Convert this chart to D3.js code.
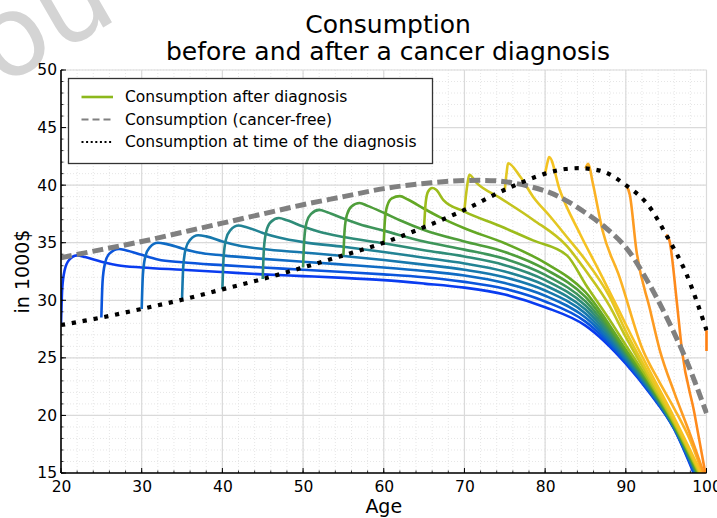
<!DOCTYPE html>
<html>
<head>
<meta charset="utf-8">
<script src="https://cdn.jsdelivr.net/npm/d3@7"></script>
<style>
  html, body { margin: 0; padding: 0; background: #ffffff; }
  svg { display: block; font-family: "DejaVu Sans", sans-serif; }
</style>
</head>
<body>
<svg id="chart" width="717" height="518"></svg>
<script>
// ---------- data ----------
const titleLines = ["Consumption", "before and after a cancer diagnosis"];
const xLabel = "Age";
const yLabel = "in 1000$";
const watermarkText = "ou";
const xTicks = [20, 30, 40, 50, 60, 70, 80, 90, 100];
const yTicks = [15, 20, 25, 30, 35, 40, 45, 50];
const legendLabels = ["Consumption after diagnosis", "Consumption (cancer-free)", "Consumption at time of the diagnosis"];

// consumption at time of the diagnosis (dotted)
const diagAges   = [20, 25, 30, 35, 40, 45, 50, 55, 60, 65, 70, 75, 80, 82.5, 85, 87.5, 90, 92.5, 95, 97.5, 100];
const diagValues = [27.85, 28.5, 29.25, 30.05, 30.95, 31.85, 32.85, 33.9, 35.0, 36.35, 37.85, 39.6, 41.0, 41.4, 41.45, 41.1, 40.0, 38.5, 35.7, 32.3, 27.4];

// cancer-free consumption (dashed)
const cancerFreeAges   = [20, 25, 30, 35, 40, 45, 50, 55, 60, 65, 70, 75, 80, 82.5, 85, 87.5, 90, 92.5, 95, 97.5, 100];
const cancerFreeValues = [33.7, 34.4, 35.1, 35.9, 36.7, 37.5, 38.3, 39.0, 39.7, 40.15, 40.4, 40.3, 39.5, 38.7, 37.6, 36.3, 34.6, 31.9, 28.6, 24.8, 20.2];

// consumption after diagnosis, one series per diagnosis age: [age, value]
const after20 = [[20,27.85],[20.15,31.0],[20.45,32.6],[21,33.5],[22,33.9],[23,33.75],[25,33.35],[27,33.05],[30,32.85],[35,32.65],[40,32.45],[45,32.25],[50,32.1],[55,31.95],[60,31.75],[65,31.45],[70,31.1],[75,30.5],[80,29.4],[85,27.8],[90,24.5],[93,21.9],[96,18.8],[98.4,15]];
const after25 = [[25,28.5],[25.15,31.6],[25.45,33.2],[26,34.05],[27.2,34.45],[28,34.35],[30,33.95],[32,33.55],[35,33.3],[40,33.05],[45,32.85],[50,32.65],[55,32.45],[60,32.25],[65,32.0],[70,31.6],[75,31.0],[80,29.9],[85,28.15],[90,24.65],[93,22.0],[96,18.85],[98.5,15]];
const after30 = [[30,29.25],[30.15,32.2],[30.45,33.8],[31,34.6],[32,35.0],[33,34.9],[35,34.5],[37,34.15],[40,33.9],[45,33.6],[50,33.35],[55,33.1],[60,32.85],[65,32.55],[70,32.15],[75,31.5],[80,30.4],[85,28.5],[90,24.8],[93,22.1],[96,18.9],[98.6,15]];
const after35 = [[35,30.05],[35.15,32.9],[35.45,34.45],[36,35.25],[37,35.65],[38,35.55],[40,35.1],[42,34.75],[45,34.45],[50,34.15],[55,33.85],[60,33.5],[65,33.1],[70,32.65],[75,32.0],[80,30.85],[85,28.85],[90,24.95],[93,22.2],[96,18.95],[98.7,15]];
const after40 = [[40,30.95],[40.15,33.7],[40.45,35.3],[41,36.1],[42,36.5],[43,36.35],[45,35.85],[47,35.45],[50,35.05],[55,34.65],[60,34.2],[65,33.7],[70,33.2],[75,32.5],[80,31.3],[85,29.2],[90,25.1],[93,22.3],[96,19.0],[98.75,15]];
const after45 = [[45,31.85],[45.15,34.5],[45.45,36.0],[46,36.8],[47,37.15],[48,36.95],[50,36.4],[52,35.95],[55,35.5],[60,34.95],[65,34.35],[70,33.8],[75,33.05],[80,31.75],[85,29.55],[90,25.25],[93,22.4],[96,19.05],[98.8,15]];
const after50 = [[50,32.85],[50.15,35.3],[50.45,36.8],[51,37.5],[52,37.85],[53,37.65],[55,37.1],[57,36.6],[60,36.05],[65,35.1],[70,34.4],[75,33.6],[80,32.2],[85,29.9],[90,25.4],[93,22.5],[96,19.1],[98.85,15]];
const after55 = [[55,33.9],[55.15,36.1],[55.45,37.45],[56,38.15],[57,38.45],[58,38.2],[60,37.6],[62,36.95],[65,36.1],[70,35.1],[75,34.2],[80,32.7],[85,30.3],[90,25.55],[93,22.6],[96,19.15],[98.9,15]];
const after60 = [[60,35.0],[60.15,37.0],[60.45,38.25],[61,38.85],[62,39.05],[63,38.75],[65,37.95],[67,37.2],[70,36.25],[75,34.95],[80,33.25],[85,30.7],[90,25.7],[93,22.7],[96,19.2],[98.95,15]];
const after65 = [[65,36.35],[65.2,38.5],[65.5,39.45],[66,39.75],[66.5,39.6],[67.4,38.7],[70,37.7],[74.4,36.45],[78.5,35.2],[82.7,33.9],[85,31.4],[88,28.3],[90,26.1],[93,22.85],[96,19.3],[99.05,15]];
const after70 = [[70,37.85],[70.35,40.0],[70.6,40.9],[71.5,40.2],[74.4,38.9],[78.5,37.0],[82.7,34.7],[85,32.6],[88,29.5],[90,26.8],[93,23.1],[96,19.4],[99.15,15]];
const after75 = [[75,39.6],[75.25,41.2],[75.4,41.9],[76.9,40.75],[78.5,39.0],[80.6,37.3],[82.7,35.5],[85,33.5],[88,30.3],[90,27.3],[93,23.4],[96,19.6],[99.25,15]];
const after80 = [[80,41.0],[80.3,42.0],[80.5,42.45],[81.8,39.6],[84.3,35.8],[86.8,32.4],[89.3,28.9],[90,27.9],[93,23.8],[96,19.8],[99.35,15]];
const after85 = [[85,41.45],[85.35,41.85],[85.9,40.2],[87.1,36.1],[89.2,32.05],[92.1,25.7],[94,23.1],[96,20.6],[98,17.8],[99.5,15]];
const after90 = [[90,40.0],[90.5,39.15],[91.3,34.4],[93.0,29.2],[94.2,25.7],[96,22.0],[98,18.3],[99.65,15]];
const after95 = [[95,35.7],[95.4,35.2],[96.3,30.0],[96.95,25.7],[98.5,20.2],[99.85,15]];
const after100 = [[100,27.4],[100,25.6]];
const afterLines = [after20, after25, after30, after35, after40, after45, after50, after55, after60, after65, after70, after75, after80, after85, after90, after95, after100];
const lineColors = ["#0a3cf0","#0b55dc","#0f6bc4","#1778ad","#228394","#2f8c78","#3e955a","#4f9e3a","#64a825","#9cbc1c","#c4c41e","#e3c722","#f5c322","#fbb224","#fd9b22","#fe8a1c","#ff7f10"];
const legendColors = ["#8cb81c", "#808080", "#000000"];

// ---------- layout ----------
const svg = d3.select("#chart");
const plot = { left: 61, right: 706.5, top: 70, bottom: 473 };
const x = d3.scaleLinear().domain([20, 100]).range([plot.left, plot.right]);
const y = d3.scaleLinear().domain([15, 50]).range([plot.bottom, plot.top]);

// watermark (partly outside the picture, as in the reference)
svg.append("text")
  .attr("transform", "translate(0,87) rotate(-30)")
  .attr("font-size", 112)
  .attr("fill", "#d4d4d4")
  .attr("font-family", "DejaVu Sans, sans-serif")
  .text(watermarkText);

// grid
const minorX = d3.range(20, 100.01, 2);
const minorY = d3.range(15, 50.01, 1);
const grid = svg.append("g");
grid.selectAll("line.mx").data(minorX).join("line")
  .attr("x1", d => x(d)).attr("x2", d => x(d)).attr("y1", plot.top).attr("y2", plot.bottom)
  .attr("stroke", "#e6e6e6").attr("stroke-width", 1).attr("stroke-dasharray", "1,2");
grid.selectAll("line.my").data(minorY).join("line")
  .attr("y1", d => y(d)).attr("y2", d => y(d)).attr("x1", plot.left).attr("x2", plot.right)
  .attr("stroke", "#e6e6e6").attr("stroke-width", 1).attr("stroke-dasharray", "1,2");
grid.selectAll("line.gx").data(xTicks).join("line")
  .attr("x1", d => x(d)).attr("x2", d => x(d)).attr("y1", plot.top).attr("y2", plot.bottom)
  .attr("stroke", "#dadada").attr("stroke-width", 1.2);
grid.selectAll("line.gy").data(yTicks).join("line")
  .attr("y1", d => y(d)).attr("y2", d => y(d)).attr("x1", plot.left).attr("x2", plot.right)
  .attr("stroke", "#dadada").attr("stroke-width", 1.2);

// clip
svg.append("clipPath").attr("id", "clip").append("rect")
  .attr("x", plot.left).attr("y", plot.top)
  .attr("width", plot.right - plot.left + 2).attr("height", plot.bottom - plot.top);

const lines = svg.append("g").attr("clip-path", "url(#clip)");
const lineGen = d3.line().x(d => x(d[0])).y(d => y(d[1])).curve(d3.curveMonotoneX);
const lineLin = d3.line().x(d => x(d[0])).y(d => y(d[1]));

afterLines.forEach((pts, i) => {
  lines.append("path")
    .attr("d", pts[0][0] === pts[pts.length - 1][0] ? lineLin(pts) : lineGen(pts))
    .attr("fill", "none").attr("stroke", lineColors[i]).attr("stroke-width", 2.6)
    .attr("stroke-linejoin", "round");
});

const cfPts = cancerFreeAges.map((a, i) => [a, cancerFreeValues[i]]);
lines.append("path").attr("d", d3.line().x(d => x(d[0])).y(d => y(d[1])).curve(d3.curveCatmullRom)(cfPts))
  .attr("fill", "none").attr("stroke", "#808080").attr("stroke-width", 5).attr("stroke-dasharray", "11,5");

const dgPts = diagAges.map((a, i) => [a, diagValues[i]]);
lines.append("path").attr("d", d3.line().x(d => x(d[0])).y(d => y(d[1])).curve(d3.curveCatmullRom)(dgPts))
  .attr("fill", "none").attr("stroke", "#000000").attr("stroke-width", 4.2).attr("stroke-dasharray", "4.2,6.8");

// axes
const axisG = svg.append("g");
const xAxis = d3.axisBottom(x).tickValues(xTicks).tickSize(0).tickPadding(8).tickFormat(d3.format("d"));
const yAxis = d3.axisLeft(y).tickValues(yTicks).tickSize(0).tickPadding(4).tickFormat(d3.format("d"));
const gx = axisG.append("g").attr("transform", `translate(0,${plot.bottom})`).call(xAxis);
const gy = axisG.append("g").attr("transform", `translate(${plot.left},0)`).call(yAxis);
[gx, gy].forEach(g => {
  g.select(".domain").remove();
  g.selectAll("text").attr("font-size", 15.5).attr("fill", "#000").attr("font-family", "DejaVu Sans, sans-serif");
});
gx.selectAll("text").attr("dy", "0.72em");
// inward ticks
axisG.selectAll("line.tx").data(xTicks).join("line")
  .attr("x1", d => x(d)).attr("x2", d => x(d)).attr("y1", plot.bottom).attr("y2", plot.bottom - 5)
  .attr("stroke", "#000").attr("stroke-width", 1);
axisG.selectAll("line.ty").data(yTicks).join("line")
  .attr("y1", d => y(d)).attr("y2", d => y(d)).attr("x1", plot.left).attr("x2", plot.left + 5)
  .attr("stroke", "#000").attr("stroke-width", 1);
axisG.selectAll("line.mtx").data(minorX).join("line")
  .attr("x1", d => x(d)).attr("x2", d => x(d)).attr("y1", plot.bottom).attr("y2", plot.bottom - 2.5)
  .attr("stroke", "#000").attr("stroke-width", 0.8);
axisG.selectAll("line.mty").data(minorY).join("line")
  .attr("y1", d => y(d)).attr("y2", d => y(d)).attr("x1", plot.left).attr("x2", plot.left + 2.5)
  .attr("stroke", "#000").attr("stroke-width", 0.8);
axisG.append("line").attr("x1", plot.left).attr("x2", plot.left).attr("y1", plot.top).attr("y2", plot.bottom)
  .attr("stroke", "#000").attr("stroke-width", 1.6);
axisG.append("line").attr("x1", plot.left).attr("x2", plot.right).attr("y1", plot.bottom).attr("y2", plot.bottom)
  .attr("stroke", "#000").attr("stroke-width", 1.6);

// titles
svg.append("text").attr("x", 388).attr("y", 33).attr("text-anchor", "middle")
  .attr("font-size", 25).text(titleLines[0]);
svg.append("text").attr("x", 388).attr("y", 60).attr("text-anchor", "middle")
  .attr("font-size", 25).text(titleLines[1]);
svg.append("text").attr("x", (plot.left + plot.right) / 2).attr("y", 513).attr("text-anchor", "middle")
  .attr("font-size", 19).text(xLabel);
svg.append("text").attr("transform", `translate(29,${(plot.top + plot.bottom) / 2}) rotate(-90)`)
  .attr("text-anchor", "middle").attr("font-size", 19).text(yLabel);

// legend
const lg = svg.append("g");
lg.append("rect").attr("x", 68.5).attr("y", 78.5).attr("width", 364).attr("height", 85)
  .attr("fill", "#fff").attr("stroke", "#333").attr("stroke-width", 1.3);
const rowsY = [97, 119.5, 142];
const dashes = [null, "7,4", "2,2.6"];
const widths = [2.6, 2.2, 2];
legendLabels.forEach((t, i) => {
  lg.append("line").attr("x1", 81.5).attr("x2", 113).attr("y1", rowsY[i]).attr("y2", rowsY[i])
    .attr("stroke", legendColors[i]).attr("stroke-width", widths[i])
    .attr("stroke-dasharray", dashes[i]);
  lg.append("text").attr("x", 125).attr("y", rowsY[i]).attr("dy", "0.35em")
    .attr("font-size", 15.5).text(t);
});
</script>
</body>
</html>
